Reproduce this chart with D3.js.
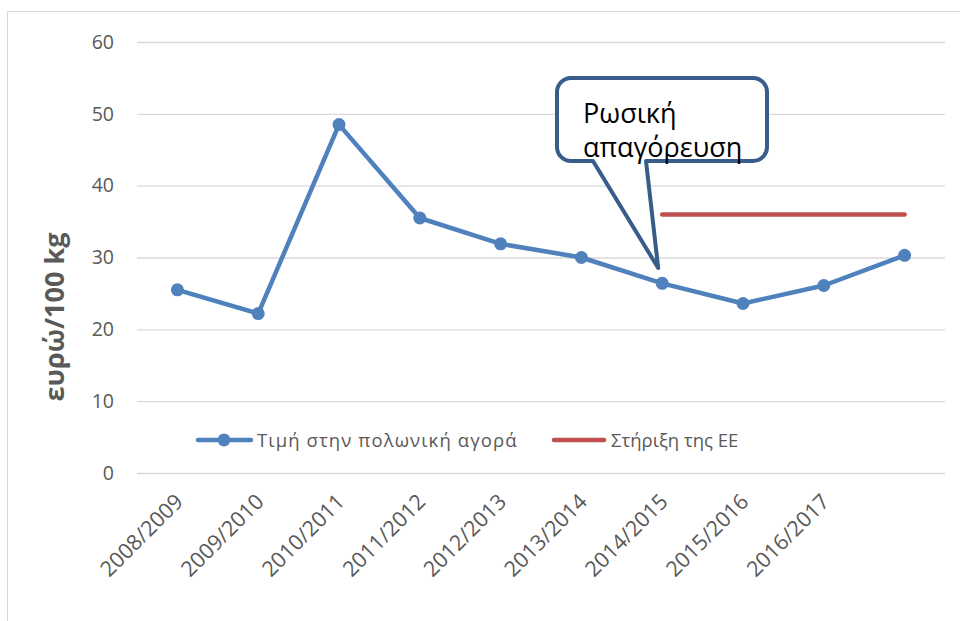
<!DOCTYPE html>
<html>
<head>
<meta charset="utf-8">
<script src="https://cdn.jsdelivr.net/npm/d3@7"></script>
<style>
  body { margin: 0; background: #fff; }
  text { font-family: "Open Sans", "Noto Sans", sans-serif; }
</style>
</head>
<body>
<svg id="chart" width="960" height="621"></svg>
<script>
// data
var seasons = ["2008/2009", "2009/2010", "2010/2011", "2011/2012", "2012/2013",
               "2013/2014", "2014/2015", "2015/2016", "2016/2017", ""];
var polishPrice = [25.5, 22.2, 48.5, 35.5, 31.9, 30.0, 26.4, 23.6, 26.1, 30.3];
var euSupport = [null, null, null, null, null, null, 36, 36, 36, 36];
var yTicks = [0, 10, 20, 30, 40, 50, 60];

var svg = d3.select("#chart"),
    blue = "#4F81BD",
    red = "#C0504D",
    grey = "#595959";

// outer frame
svg.append("path")
    .attr("d", "M7.5,621V11.5H960")
    .attr("fill", "none")
    .attr("stroke", "#d9d9d9")
    .attr("stroke-width", 1);

var x = d3.scaleBand().domain(d3.range(seasons.length)).range([137, 945]);
var y = d3.scaleLinear().domain([0, 60]).range([473, 42]);
var cx = function (i) { return x(i) + x.bandwidth() / 2; };

// grid + y labels
var yAxis = d3.axisLeft(y).tickValues(yTicks).tickSize(-(945 - 137)).tickPadding(23);
var gy = svg.append("g").attr("transform", "translate(137,0)").call(yAxis);
gy.select(".domain").remove();
gy.selectAll("line").attr("stroke", "#d9d9d9").attr("stroke-width", 1.3);
gy.selectAll("text").attr("fill", grey).attr("font-size", 19.5);

// x labels
var gx = svg.append("g");
gx.selectAll("text").data(seasons).enter().append("text")
    .attr("transform", function (d, i) {
        return "translate(" + (cx(i) + 7) + ",503) rotate(-45)";
    })
    .attr("text-anchor", "end")
    .attr("fill", grey)
    .attr("font-size", 21.5)
    .text(function (d) { return d; });

// y title
svg.append("text")
    .attr("transform", "translate(64,317) rotate(-90)")
    .attr("text-anchor", "middle")
    .attr("font-size", 27)
    .attr("font-weight", "bold")
    .attr("fill", grey)
    .text("ευρώ/100 kg");

// lines
var line = d3.line()
    .defined(function (d) { return d != null; })
    .x(function (d, i) { return cx(i); })
    .y(function (d) { return y(d); });

svg.append("path").datum(euSupport)
    .attr("d", line)
    .attr("fill", "none")
    .attr("stroke", red)
    .attr("stroke-width", 4.5)
    .attr("stroke-linecap", "round");

svg.append("path").datum(polishPrice)
    .attr("d", line)
    .attr("fill", "none")
    .attr("stroke", blue)
    .attr("stroke-width", 4.5)
    .attr("stroke-linejoin", "round");

svg.append("g").selectAll("circle").data(polishPrice).enter().append("circle")
    .attr("cx", function (d, i) { return cx(i); })
    .attr("cy", function (d) { return y(d); })
    .attr("r", 6.5)
    .attr("fill", blue);

// legend
var leg = svg.append("g");
leg.append("line").attr("x1", 198).attr("x2", 251).attr("y1", 440).attr("y2", 440)
    .attr("stroke", blue).attr("stroke-width", 4.5).attr("stroke-linecap", "round");
leg.append("circle").attr("cx", 224).attr("cy", 440).attr("r", 6.5).attr("fill", blue);
leg.append("text").attr("x", 257).attr("y", 447).attr("font-size", 18.5).attr("fill", grey)
    .attr("letter-spacing", 1.1)
    .text("Τιμή στην πολωνική αγορά");
leg.append("line").attr("x1", 554).attr("x2", 604).attr("y1", 440).attr("y2", 440)
    .attr("stroke", red).attr("stroke-width", 4.5).attr("stroke-linecap", "round");
leg.append("text").attr("x", 611).attr("y", 447).attr("font-size", 18.5).attr("fill", grey)
    .text("Στήριξη της ΕΕ");

// callout
var c = { x0: 557, y0: 78, x1: 767, y1: 161, r: 14 },
    tip = [cx(6) - 4, 268],
    tl = 593, tr = 646;
var p = d3.path();
p.moveTo(c.x0 + c.r, c.y0);
p.lineTo(c.x1 - c.r, c.y0);
p.arcTo(c.x1, c.y0, c.x1, c.y0 + c.r, c.r);
p.lineTo(c.x1, c.y1 - c.r);
p.arcTo(c.x1, c.y1, c.x1 - c.r, c.y1, c.r);
p.lineTo(tr, c.y1);
p.lineTo(tip[0], tip[1]);
p.lineTo(tl, c.y1);
p.lineTo(c.x0 + c.r, c.y1);
p.arcTo(c.x0, c.y1, c.x0, c.y1 - c.r, c.r);
p.lineTo(c.x0, c.y0 + c.r);
p.arcTo(c.x0, c.y0, c.x0 + c.r, c.y0, c.r);
p.closePath();
svg.append("path").attr("d", p.toString())
    .attr("fill", "#fff")
    .attr("stroke", "#385D8A")
    .attr("stroke-width", 4)
    .attr("stroke-linejoin", "round");
svg.append("text").attr("x", 583).attr("y", 123).attr("font-size", 27).attr("fill", "#000")
    .text("Ρωσική");
svg.append("text").attr("x", 583).attr("y", 157).attr("font-size", 27).attr("fill", "#000")
    .text("απαγόρευση");
</script>
</body>
</html>
